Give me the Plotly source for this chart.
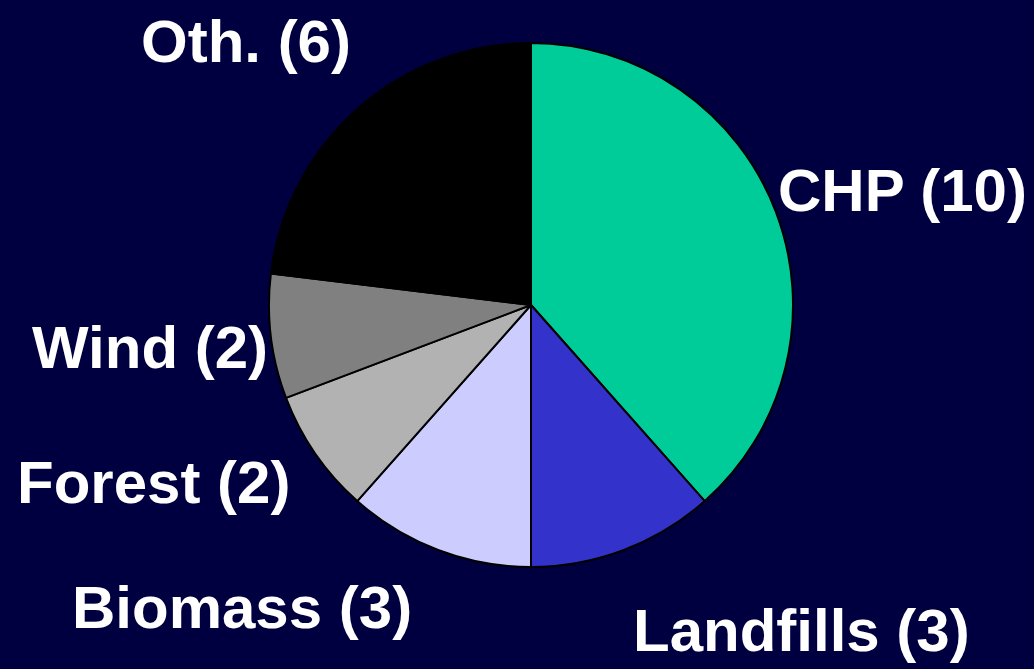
import plotly.graph_objects as go

labels = ["CHP", "Landfills", "Biomass", "Forest", "Wind", "Oth."]
values = [10, 3, 3, 2, 2, 6]
colors = ["#00CC99", "#3333CC", "#CCCCFF", "#B2B2B2", "#808080", "#000000"]

W, H = 1034, 669

# label anchor positions (pixels) - layout only
label_px = {
    "CHP": (902, 190),
    "Landfills": (801, 630),
    "Biomass": (242, 607),
    "Forest": (153, 482),
    "Wind": (150, 348),
    "Oth.": (246, 42),
}

cx, cy, r = 531, 305, 262

fig = go.Figure(go.Pie(
    labels=labels,
    values=values,
    sort=False,
    direction="clockwise",
    rotation=0,
    marker=dict(colors=colors, line=dict(color="#000000", width=2)),
    textinfo="none",
    hoverinfo="label+value",
    showlegend=False,
    domain=dict(x=[(cx - r) / W, (cx + r) / W], y=[(H - cy - r) / H, (H - cy + r) / H]),
))

for lab, val in zip(labels, values):
    px, py = label_px[lab]
    fig.add_annotation(
        x=px / W, y=1 - py / H, xref="paper", yref="paper",
        text=f"<b>{lab} ({val})</b>", showarrow=False,
        xanchor="center", yanchor="middle",
        font=dict(family="Liberation Sans, Arial, sans-serif", size=60, color="#FFFFFF"),
    )

fig.update_layout(
    width=W, height=H,
    margin=dict(l=0, r=0, t=0, b=0),
    paper_bgcolor="#000040",
    plot_bgcolor="#000040",
)

fig.write_html("out.html", config={"displayModeBar": False},
               post_script="document.body.style.margin='0';")
